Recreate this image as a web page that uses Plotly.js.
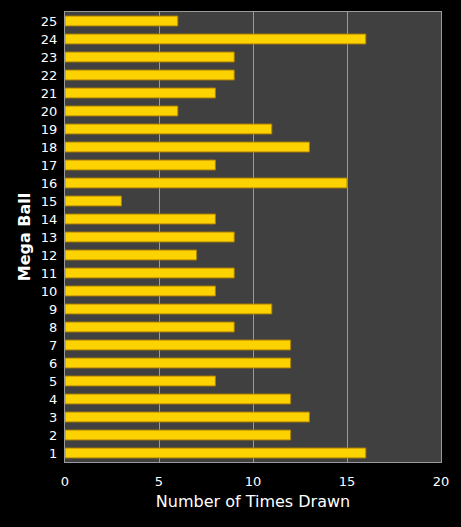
<!DOCTYPE html>
<html>
<head>
<meta charset="utf-8">
<script src="https://cdn.plot.ly/plotly-3.0.1.min.js"></script>
<style>
  html, body { margin: 0; padding: 0; background: #000; }
  #chart { width: 461px; height: 527px; }
</style>
</head>
<body>
<div id="chart"></div>
<script>
// Mega Ball numbers and how often each was drawn
const balls = ['1','2','3','4','5','6','7','8','9','10','11','12','13','14','15','16','17','18','19','20','21','22','23','24','25'];
const timesDrawn = [16,12,13,12,8,12,12,9,11,8,9,7,9,8,3,15,8,13,11,6,8,9,9,16,6];
const xTicks = [0, 5, 10, 15, 20];

const trace = {
    type: 'bar',
    orientation: 'h',
    x: timesDrawn,
    y: balls,
    marker: {
        color: '#fcd200',
        line: { color: '#b08000', width: 1 }
    },
    hoverinfo: 'x+y'
};

const layout = {
    width: 461,
    height: 527,
    paper_bgcolor: '#000000',
    plot_bgcolor: '#404040',
    margin: { l: 65, r: 20, t: 12, b: 65 },
    bargap: 0.45,
    font: { family: 'DejaVu Sans, Verdana, sans-serif', color: '#ffffff', size: 12 },
    showlegend: false,
    xaxis: {
        range: [0, 20],
        tickvals: xTicks,
        ticktext: xTicks.map(String),
        showgrid: true,
        gridcolor: '#9a9a9a',
        gridwidth: 1,
        zeroline: false,
        showline: true,
        linecolor: '#9a9a9a',
        mirror: true,
        ticks: '',
        ticklabelstandoff: 7,
        tickfont: { size: 13, color: '#ffffff' },
        title: { text: 'Number of Times Drawn', font: { size: 16, color: '#ffffff' }, standoff: 8 }
    },
    yaxis: {
        type: 'category',
        categoryorder: 'array',
        categoryarray: balls,
        showgrid: false,
        zeroline: false,
        showline: true,
        linecolor: '#9a9a9a',
        mirror: true,
        ticks: '',
        ticklabelstandoff: 4,
        tickfont: { size: 13, color: '#ffffff' },
        title: { text: '<b>Mega Ball</b>', font: { size: 16, color: '#ffffff' }, standoff: 6 }
    }
};

Plotly.newPlot('chart', [trace], layout, { displayModeBar: false, staticPlot: true });
</script>
</body>
</html>
